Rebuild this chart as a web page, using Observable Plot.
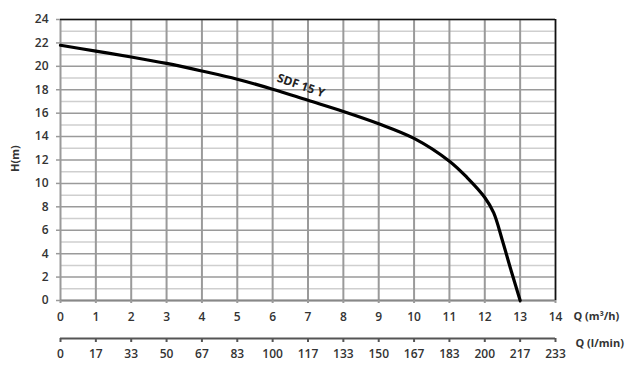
<!DOCTYPE html>
<html><head><meta charset="utf-8">
<script src="https://cdn.jsdelivr.net/npm/d3@7"></script>
<script src="https://cdn.jsdelivr.net/npm/@observablehq/plot@0.6"></script>
<style>body{margin:0;background:#fff;} svg{display:block;}</style>
</head><body><div id="chart"></div>
<script>
// Pump curve SDF 15 Y
const flowQ = [0, 1, 2, 3, 4, 5, 6, 7, 8, 9, 10, 11, 11.5, 12, 12.25, 12.5, 12.75, 13];
const headH = [21.8, 21.3, 20.8, 20.25, 19.6, 18.9, 18.05, 17.1, 16.15, 15.1, 13.85, 11.9, 10.5, 8.8, 7.5, 5.1, 2.5, 0];
const xTicks = [0, 1, 2, 3, 4, 5, 6, 7, 8, 9, 10, 11, 12, 13, 14];
const lminLabels = ["0", "17", "33", "50", "67", "83", "100", "117", "133", "150", "167", "183", "200", "217", "233"];
const yTicks = [0, 2, 4, 6, 8, 10, 12, 14, 16, 18, 20, 22, 24];
const yMinor = [1, 3, 5, 7, 9, 11, 13, 15, 17, 19, 21, 23];
const curveLabels = [{text: "SDF 15 Y", q: 6.8, h: 18.35}];
const yLabel = "H(m)";
const xLabel1 = "Q (m³/h)";
const xLabel2 = "Q (l/min)";

const data = flowQ.map((q, i) => ({q, h: headH[i]}));
const font = "'Open Sans', sans-serif";

const plot = Plot.plot({
  width: 634, height: 369,
  marginLeft: 60, marginRight: 79, marginTop: 19, marginBottom: 69,
  style: {fontFamily: font, fontSize: "12px", fontWeight: 600, color: "#333", background: "#fff", overflow: "visible"},
  x: {domain: [0, 14]},
  y: {domain: [0, 24]},
  marks: [
    Plot.ruleY(yMinor, {stroke: "#cfcfcf", strokeWidth: 1.5}),
    Plot.ruleY(yTicks, {stroke: "#9a9a9a", strokeWidth: 1.5}),
    Plot.ruleX(xTicks, {stroke: "#9a9a9a", strokeWidth: 2}),
    Plot.ruleY([0], {stroke: "#888", strokeWidth: 2}),
    Plot.ruleY([24], {stroke: "#111", strokeWidth: 1.5}),
    Plot.ruleX([14], {stroke: "#111", strokeWidth: 1.5}),
    Plot.axisY({ticks: yTicks, tickSize: 4, tickPadding: 8, label: null, stroke: "#9a9a9a", strokeWidth: 1.5, fill: "#333"}),
    Plot.axisX({ticks: xTicks, tickSize: 3, tickPadding: 9, label: null, tickFormat: d => String(d), stroke: "#9a9a9a", strokeWidth: 2, fill: "#333"}),
    Plot.ruleY([0], {dy: 38, stroke: "#555", strokeWidth: 2}),
    Plot.axisX({ticks: xTicks, tickSize: 4, tickPadding: 7, dy: 38, label: null, tickFormat: d => lminLabels[xTicks.indexOf(d)], stroke: "#555", strokeWidth: 2, fill: "#333"}),
    Plot.line(data, {x: "q", y: "h", curve: "catmull-rom", stroke: "#000", strokeWidth: 3.2}),
    Plot.text(curveLabels, {x: "q", y: "h", text: "text", rotate: 19, fontSize: 12, fontWeight: 700, fill: "#222"}),
    Plot.text([yLabel], {frameAnchor: "left", dx: -45, dy: 12, rotate: -90, fontSize: 11, fontWeight: 700, fill: "#333"}),
    Plot.text([xLabel1], {frameAnchor: "bottom-right", dx: 18, dy: 19, textAnchor: "start", fontSize: 11, fontWeight: 700, fill: "#333"}),
    Plot.text([xLabel2], {frameAnchor: "bottom-right", dx: 20, dy: 46, textAnchor: "start", fontSize: 11, fontWeight: 700, fill: "#333"})
  ]
});
document.getElementById("chart").appendChild(plot);
</script>
</body></html>
